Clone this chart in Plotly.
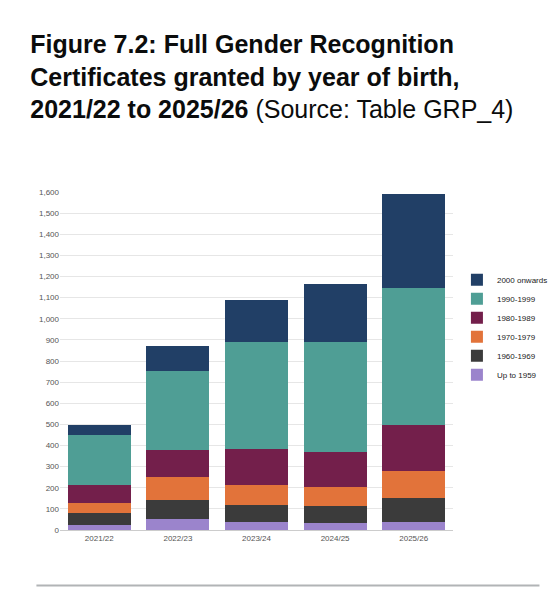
import plotly.graph_objects as go

years = ["2021/22", "2022/23", "2023/24", "2024/25", "2025/26"]

# stacked from bottom up
up_to_1959 = [25, 53, 40, 33, 37]
y1960_1969 = [55, 89, 77, 79, 116]
y1970_1979 = [50, 110, 95, 91, 126]
y1980_1989 = [82, 126, 173, 164, 218]
y1990_1999 = [238, 377, 503, 522, 650]
y2000_on = [45, 115, 200, 275, 443]

series = [
    ("Up to 1959", up_to_1959, "#9b84cc"),
    ("1960-1969", y1960_1969, "#3b3b3b"),
    ("1970-1979", y1970_1979, "#e2733a"),
    ("1980-1989", y1980_1989, "#731f4b"),
    ("1990-1999", y1990_1999, "#4f9e95"),
    ("2000 onwards", y2000_on, "#213f66"),
]

fig = go.Figure()
for name, vals, col in series:
    fig.add_trace(go.Bar(x=years, y=vals, name=name, marker_color=col,
                         marker_line_width=0))

fig.update_layout(
    barmode="stack",
    bargap=0.2,
    width=557, height=600,
    paper_bgcolor="white", plot_bgcolor="white",
    font=dict(family="Liberation Sans, Arial", color="#555", size=8),
    margin=dict(l=52, r=84, t=184, b=78),
    title=dict(
        text="<b>Figure 7.2: Full Gender Recognition<br>Certificates granted by year of birth,<br>2021/22 to 2025/26</b> (Source: Table GRP_4)",
        x=0.04, xanchor="left", y=0.925, yanchor="top",
        font=dict(family="Liberation Sans, Arial", size=25, color="#0b0c0c"),
    ),
    yaxis=dict(range=[0, 1600], dtick=100, tickformat=",", gridcolor="#e6e6e6",
               zeroline=False, ticks="", tickfont=dict(size=8, color="#555")),
    xaxis=dict(showline=True, linecolor="#ccc", tickfont=dict(size=8, color="#555")),
    legend=dict(x=1.01, y=0.6, yanchor="middle", traceorder="reversed",
                font=dict(size=8, color="#222"), itemwidth=30, tracegroupgap=0),
    shapes=[dict(type="line", xref="paper", yref="paper", x0=-0.06, x1=1.22,
                 y0=-0.164, y1=-0.164, line=dict(color="#b1b4b6", width=2))],
)

fig.write_html("out.html")
